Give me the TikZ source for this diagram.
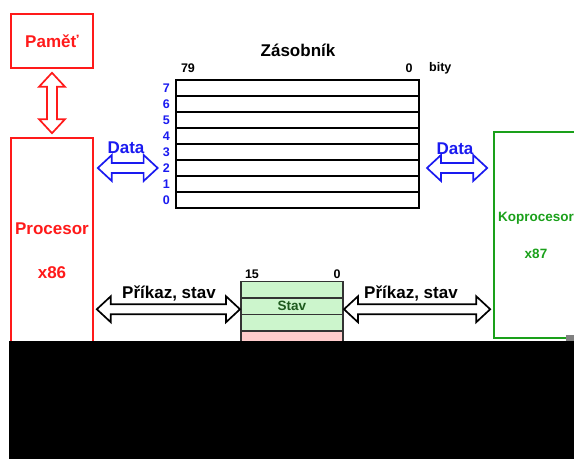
\documentclass[tikz,border=0pt]{standalone}
\usepackage{fontspec}
\setmainfont{Liberation Sans}
\usepackage{tikz}
\usetikzlibrary{positioning,calc}
\definecolor{cpuRed}{HTML}{FF1A1A}
\definecolor{busBlue}{HTML}{1A1AF0}
\definecolor{fpuGreen}{HTML}{1AA01A}
\definecolor{stavFill}{HTML}{CCF5CC}
\definecolor{stavText}{HTML}{1E5A1E}
\definecolor{ctlFill}{HTML}{FFCCCC}

\begin{document}
\begin{tikzpicture}[x=1pt, y=-1pt,
  unit/.style={draw=#1, line width=1.6pt, text=#1, align=center, font=\fontsize{17}{20}\selectfont\bfseries, inner sep=0pt},
  reg/.style={draw, line width=1.2pt, minimum width=243pt, minimum height=16pt, inner sep=0pt, outer sep=0pt},
  flag/.style={draw=black!80, line width=1.1pt, fill=stavFill, minimum width=102pt, minimum height=16.5pt, inner sep=0pt, outer sep=0pt, font=\fontsize{13.5}{15}\selectfont\bfseries, text=stavText},
  num/.style={font=\fontsize{12.5}{14}\selectfont\bfseries, inner sep=1pt},
  lbl/.style={font=\fontsize{17}{20}\selectfont\bfseries, inner sep=0pt},
  agap/.store in=\agap, bgap/.store in=\bgap, agap=3pt, bgap=3pt,
  fatarr/.style={draw=#1, fill=white, line width=1.7pt, line join=miter, to path={
    ($(\tikztostart)!\agap!(\tikztotarget)$)
    -- ($(\tikztostart)!\agap+14pt!(\tikztotarget)!13pt!90:(\tikztotarget)$)
    -- ($(\tikztostart)!\agap+14pt!(\tikztotarget)!5pt!90:(\tikztotarget)$)
    -- ($(\tikztotarget)!\bgap+14pt!(\tikztostart)!5pt!-90:(\tikztostart)$)
    -- ($(\tikztotarget)!\bgap+14pt!(\tikztostart)!13pt!-90:(\tikztostart)$)
    -- ($(\tikztotarget)!\bgap!(\tikztostart)$)
    -- ($(\tikztotarget)!\bgap+14pt!(\tikztostart)!13pt!90:(\tikztostart)$)
    -- ($(\tikztotarget)!\bgap+14pt!(\tikztostart)!5pt!90:(\tikztostart)$)
    -- ($(\tikztostart)!\agap+14pt!(\tikztotarget)!5pt!-90:(\tikztotarget)$)
    -- ($(\tikztostart)!\agap+14pt!(\tikztotarget)!13pt!-90:(\tikztotarget)$)
    -- cycle}}
]
  \useasboundingbox (0,0) rectangle (574,459);

  \node[unit=cpuRed, minimum width=82pt, minimum height=54pt] (pam) at (52,41) {Paměť};
  \node[unit=cpuRed, minimum width=82pt, minimum height=226pt] (proc) at (52,251) {Procesor\\[24pt]x86};
  \node[unit=fpuGreen, font=\fontsize{13.5}{15}\selectfont\bfseries, minimum width=84pt, minimum height=206pt] (kop) at (536,235) {Koprocesor\\[22pt]x87};

  \node[lbl] (stk) at (298,50) {Zásobník};
  \foreach \i in {0,...,7}
    \node[reg] (row\i) at (297.5,{88+(7-\i)*16}) {};
  \foreach \i in {0,...,7}
    \node[num, text=busBlue, left=5pt of row\i] (n\i) {\i};
  \node[num] (hi) at (188,68) {79};
  \node[num] (lo) at (409,68) {0};
  \node[num, anchor=west] (bits) at (428,68) {bity};

  \node[flag] (stav2) at (292,289.75) {};
  \node[flag, below=0pt of stav2] (stav1) {Stav};
  \node[flag, below=0pt of stav1] (stav0) {};
  \node[flag, fill=ctlFill, below=0pt of stav0] (ctl) {};
  \node[num] (shi) at (252,274) {15};
  \node[num] (slo) at (337,274) {0};

  \coordinate (cmd) at ([yshift=-3pt]stav1.west);
  \coordinate (cmdr) at ([yshift=-3pt]stav1.east);
  \draw[fatarr=cpuRed, agap=4pt, bgap=4pt] (pam.south) to (proc.north);
  \draw[fatarr=busBlue, agap=4pt, bgap=4pt] (proc.east |- n2.west) to (n2.west);
  \draw[fatarr=busBlue, agap=8pt, bgap=6pt] (row2.east) to (kop.west |- row2.east);
  \draw[fatarr=black, agap=3pt, bgap=1pt] (proc.east |- cmd) to (cmd);
  \draw[fatarr=black, agap=1pt, bgap=3pt] (cmdr) to (kop.west |- cmdr);

  \node[lbl, text=busBlue] at (126,148) {Data};
  \node[lbl, text=busBlue] at (455,149) {Data};
  \node[lbl] at (169,293) {Příkaz, stav};
  \node[lbl] at (411,293) {Příkaz, stav};

  \fill[gray] (566,335) rectangle (574,341);
  \fill[black] (9,341) rectangle (574,459);
\end{tikzpicture}
\end{document}
